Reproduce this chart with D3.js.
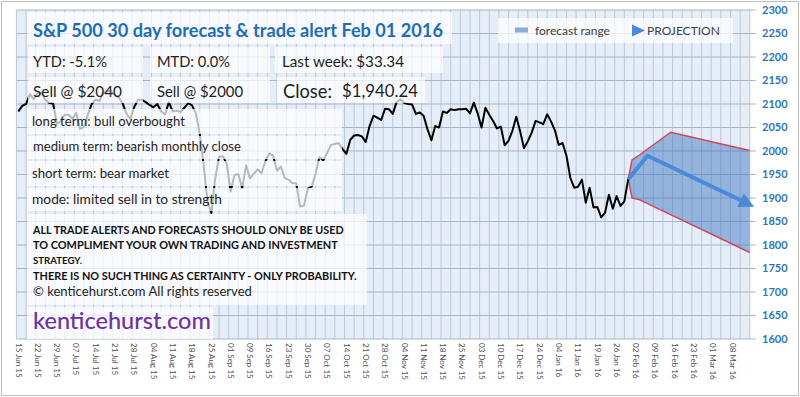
<!DOCTYPE html>
<html>
<head>
<meta charset="utf-8">
<script src="https://cdn.jsdelivr.net/npm/d3@7"></script>
<style>
body { margin: 0; background: #fff; }
svg text { font-family: Lato, "Open Sans", sans-serif; }
</style>
</head>
<body>
<svg id="chart"></svg>
<script>
// x axis labels, one every 5 trading days
const tickLabels = [
    "15 Jun 15", "22 Jun 15", "29 Jun 15", "07 Jul 15", "14 Jul 15", "21 Jul 15", "28 Jul 15",
    "04 Aug 15", "11 Aug 15", "18 Aug 15", "25 Aug 15", "01 Sep 15", "09 Sep 15", "16 Sep 15",
    "23 Sep 15", "30 Sep 15", "07 Oct 15", "14 Oct 15", "21 Oct 15", "28 Oct 15", "04 Nov 15",
    "11 Nov 15", "18 Nov 15", "25 Nov 15", "03 Dec 15", "10 Dec 15", "17 Dec 15", "24 Dec 15",
    "04 Jan 16", "11 Jan 16", "19 Jan 16", "26 Jan 16", "02 Feb 16", "09 Feb 16", "16 Feb 16",
    "23 Feb 16", "01 Mar 16", "08 Mar 16"
];

// daily closes, 15 Jun 15 .. 29 Jan 16
const closes = [
    2084, 2096, 2100, 2121, 2110, 2123, 2124, 2109, 2102, 2101, 2058, 2063,
    2077, 2077, 2069, 2081, 2047, 2051, 2077, 2100, 2109, 2107, 2124, 2127, 2128, 2119, 2114, 2102, 2080, 2068, 2093, 2109, 2109, 2104,
    2098, 2093, 2100, 2084, 2078, 2104, 2084, 2086, 2083, 2092, 2102, 2097, 2080, 2036, 1971, 1893, 1868, 1941, 1988, 1989, 1972,
    1914, 1949, 1951, 1921, 1969, 1942, 1952, 1961, 1953, 1978, 1995, 1990, 1958, 1967, 1943, 1939, 1932, 1931, 1882, 1884, 1920,
    1924, 1951, 1987, 1980, 1996, 2013, 2015, 2017, 2004, 1994, 2024, 2033, 2034, 2031, 2019, 2053, 2075, 2071, 2066, 2090, 2089, 2079,
    2104, 2110, 2102, 2100, 2099, 2079, 2082, 2075, 2046, 2023, 2053, 2050, 2084, 2081, 2089, 2087, 2089, 2089, 2090, 2080,
    2103, 2080, 2050, 2092, 2077, 2064, 2048, 2052, 2012, 2022, 2043, 2073, 2042, 2006, 2021, 2039, 2064, 2061, 2057, 2078, 2063, 2044,
    2013, 2017, 1990, 1943, 1922, 1924, 1939, 1890, 1922, 1880, 1881, 1859, 1869, 1907, 1877, 1904, 1883, 1893, 1940
];

// forecast range edges and projection, as [day index, level]
const forecastUpper = [[158, 1940], [159, 1981], [161, 1992], [169, 2040], [189.5, 2001]];
const forecastLower = [[158, 1940], [159, 1900], [161, 1896], [189.5, 1784]];
const projection = [[158, 1940], [163, 1990], [188.5, 1890]];

const yTicks = d3.range(1600, 2301, 50);

const width = 800, height = 397;
const plot = { left: 16.4, right: 749.8, top: 10, bottom: 339 };
const nDays = 190;

const svg = d3.select("#chart").attr("width", width).attr("height", height);

const x = d3.scaleLinear().domain([-0.5, nDays - 0.5]).range([plot.left, plot.right]);
const y = d3.scaleLinear().domain([1600, 2300]).range([plot.bottom, plot.top]);

// outer frame
svg.append("rect")
    .attr("x", 1.5).attr("y", 1.5)
    .attr("width", width - 3).attr("height", height - 3)
    .attr("fill", "#fff").attr("stroke", "#bdbdbd");

// plot background
svg.append("rect")
    .attr("x", plot.left).attr("y", plot.top)
    .attr("width", plot.right - plot.left).attr("height", plot.bottom - plot.top)
    .attr("fill", "#e5eef8");

// vertical grid, every 2.5 days
svg.append("g").selectAll("line")
    .data(d3.range(-0.5, nDays, 2.5))
    .join("line")
    .attr("x1", d => x(d)).attr("x2", d => x(d))
    .attr("y1", plot.top).attr("y2", plot.bottom)
    .attr("stroke", "#bcc7d4").attr("stroke-width", 1);

// horizontal grid + ticks
svg.append("g").selectAll("line")
    .data(yTicks)
    .join("line")
    .attr("x1", plot.left).attr("x2", plot.right + 6)
    .attr("y1", d => y(d)).attr("y2", d => y(d))
    .attr("stroke", "#a9b5c4").attr("stroke-width", 1);

// y labels on the right
svg.append("g").selectAll("text")
    .data(yTicks)
    .join("text")
    .attr("x", 762).attr("y", d => y(d)).attr("dy", "0.35em")
    .attr("font-size", 11).attr("font-weight", 700)
    .attr("fill", "#2e75b6")
    .text(d => d);

// x labels, rotated
svg.append("g").selectAll("text")
    .data(tickLabels)
    .join("text")
    .attr("transform", (d, i) => `translate(${x(i * 5)},343) rotate(90)`)
    .attr("dy", "0.35em")
    .attr("font-size", 8)
    .attr("fill", "#505050")
    .text(d => d);

// forecast range
const clipId = "plotclip";
svg.append("clipPath").attr("id", clipId)
    .append("rect")
    .attr("x", plot.left).attr("y", plot.top)
    .attr("width", plot.right - plot.left).attr("height", plot.bottom - plot.top);

const pt = d3.line().x(d => x(d[0])).y(d => y(d[1]));
const fc = svg.append("g").attr("clip-path", `url(#${clipId})`);

fc.append("path")
    .attr("d", pt(forecastUpper.concat(forecastLower.slice().reverse())) + "Z")
    .attr("fill", "#3c73c0").attr("fill-opacity", 0.48);
fc.append("path").attr("d", pt(forecastUpper))
    .attr("fill", "none").attr("stroke", "#d2445a").attr("stroke-width", 1.5);
fc.append("path").attr("d", pt(forecastLower))
    .attr("fill", "none").attr("stroke", "#d2445a").attr("stroke-width", 1.5);

// price line
const line = d3.line().x((d, i) => x(i)).y(d => y(d));
svg.append("path").datum(closes)
    .attr("d", line)
    .attr("fill", "none").attr("stroke", "#000").attr("stroke-width", 2)
    .attr("stroke-linejoin", "round");

// projection arrow
svg.append("defs").append("marker")
    .attr("id", "arrow")
    .attr("viewBox", "0 0 10 10")
    .attr("refX", 4).attr("refY", 5)
    .attr("markerWidth", 3.8).attr("markerHeight", 3.8)
    .attr("orient", "auto")
    .append("path").attr("d", "M0,0L10,5L0,10Z").attr("fill", "#4a8ad8");

svg.append("path")
    .attr("d", pt(projection))
    .attr("fill", "none").attr("stroke", "#4a8ad8").attr("stroke-width", 4)
    .attr("stroke-linejoin", "round")
    .attr("marker-end", "url(#arrow)");

// semi transparent text boxes over the chart
const boxes = [
    [27, 12, 425, 32],
    [28, 47, 115, 26], [150, 47, 120, 26], [275, 47, 168, 26],
    [28, 77, 115, 26], [150, 77, 120, 26], [277, 77, 148, 26],
    [27, 109, 315, 25], [27, 136, 315, 23], [27, 161, 315, 25], [27, 188, 315, 23],
    [27, 214, 340, 91],
    [27, 307, 186, 32],
    [498, 18, 235, 25]
];
svg.append("g").selectAll("rect")
    .data(boxes)
    .join("rect")
    .attr("x", d => d[0]).attr("y", d => d[1])
    .attr("width", d => d[2]).attr("height", d => d[3])
    .attr("fill", "#fff").attr("fill-opacity", 0.72);

// text items: text, x, centre y, target width, weight, colour
const notes = [
    ["S&P 500 30 day forecast & trade alert Feb 01 2016", 33, 30.5, 410, 700, "#1f6db5"],
    ["YTD: -5.1%", 33, 61.5, 74, 400, "#1f1f1f"],
    ["MTD: 0.0%", 157, 61.5, 73, 400, "#1f1f1f"],
    ["Last week: $33.34", 282, 61.5, 122, 400, "#1f1f1f"],
    ["Sell @ $2040", 33, 91.5, 89, 400, "#1f1f1f"],
    ["Sell @ $2000", 157, 91.5, 86, 400, "#1f1f1f"],
    ["Close:", 283, 91.5, 49, 400, "#1f1f1f"],
    ["$1,940.24", 342, 91.5, 76, 400, "#1f1f1f"],
    ["long term: bull overbought", 32, 121.5, 153, 400, "#1f1f1f"],
    ["medium term: bearish monthly close", 33, 146.5, 208, 400, "#1f1f1f"],
    ["short term: bear market", 32, 173, 137, 400, "#1f1f1f"],
    ["mode: limited sell in to strength", 32, 199.5, 190, 400, "#1f1f1f"],
    ["ALL TRADE ALERTS AND FORECASTS SHOULD ONLY BE USED", 33, 230, 311, 700, "#111"],
    ["TO COMPLIMENT YOUR OWN TRADING AND INVESTMENT", 33, 245, 305, 700, "#111"],
    ["STRATEGY.", 33, 260.5, 49, 700, "#111"],
    ["THERE IS NO SUCH THING AS CERTAINTY - ONLY PROBABILITY.", 33, 276.5, 324, 700, "#111"],
    ["\u00a9 kenticehurst.com All rights reserved", 33, 291.5, 219, 400, "#1f1f1f"],
    ["kenticehurst.com", 33, 321, 178, 500, "#7030a0"]
];

notes.forEach(n => {
    const t = svg.append("text")
        .attr("x", n[1]).attr("y", n[2]).attr("dy", "0.35em")
        .attr("font-size", 20).attr("font-weight", n[4])
        .attr("fill", n[5])
        .text(n[0]);
    const w = t.node().getComputedTextLength();
    t.attr("font-size", (20 * n[3] / w).toFixed(2));
});

// legend
svg.append("rect")
    .attr("x", 515).attr("y", 27.5).attr("width", 13).attr("height", 5)
    .attr("fill", "#8eaad6");
svg.append("text")
    .attr("x", 535).attr("y", 30.5).attr("dy", "0.35em")
    .attr("font-size", 12).attr("fill", "#404040")
    .text("forecast range");
svg.append("path")
    .attr("d", "M632,24.5L645,30.5L632,36.5Z")
    .attr("fill", "#4a8ad8");
svg.append("text")
    .attr("x", 647).attr("y", 30.5).attr("dy", "0.35em")
    .attr("font-size", 12).attr("fill", "#404040")
    .text("PROJECTION");
</script>
</body>
</html>
